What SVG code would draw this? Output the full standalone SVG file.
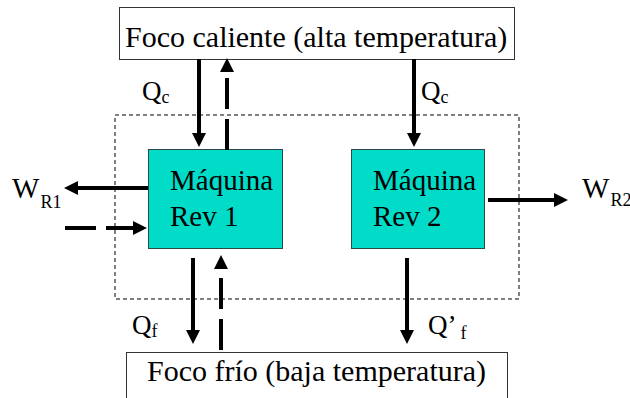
<svg xmlns="http://www.w3.org/2000/svg" width="630" height="398" viewBox="0 0 630 398" font-family="'Liberation Serif', 'Times New Roman', Times, serif">
<defs>
<style>
text, tspan { font-family: 'Liberation Serif', 'Times New Roman', Times, serif; fill: #000; }
.big { font-size: 30px; }
.mach { font-size: 29px; }
.lbl { font-size: 27px; }
.lblw { font-size: 29px; }
.sub { font-size: 18px; }
.box { fill: #fff; stroke: #333; stroke-width: 1; }
.eng { fill: #00DCC8; stroke: #2a4a44; stroke-width: 1; }
.arr { stroke: #000; stroke-width: 4; fill: none; marker-end: url(#ah); }
.dash { stroke-dasharray: 31 10; }
</style>
<marker id="ah" viewBox="0 -7 14 14" refX="0" refY="0" markerWidth="14" markerHeight="14" markerUnits="userSpaceOnUse" orient="auto">
<path d="M0,-7 L14,0 L0,7 z" fill="#000"/>
</marker>
</defs>
<rect width="630" height="398" fill="#fff"/>
<rect x="115" y="115" width="404" height="184" fill="none" stroke="#000" stroke-width="1" stroke-dasharray="4 3"/>
<g id="foco-caliente">
<rect class="box" x="119.5" y="7.5" width="395" height="52"/>
<text class="big" x="125" y="47">Foco caliente (alta temperatura)</text>
</g>
<g id="foco-frio">
<rect class="box" x="126.5" y="352.5" width="381" height="60"/>
<text class="big" x="147" y="381">Foco frío (baja temperatura)</text>
</g>
<g id="maquina1">
<rect class="eng" x="148.5" y="149.5" width="134" height="99"/>
<text class="mach" x="170" y="190">Máquina</text>
<text class="mach" x="170" y="226">Rev 1</text>
</g>
<g id="maquina2">
<rect class="eng" x="351.5" y="149.5" width="133" height="99"/>
<text class="mach" x="373" y="190">Máquina</text>
<text class="mach" x="373" y="226">Rev 2</text>
</g>
<g id="connectors">
<line class="arr" x1="199" y1="59" x2="199" y2="133"/>
<line class="arr dash" x1="227" y1="150" x2="227" y2="72"/>
<line class="arr" x1="414" y1="59" x2="414" y2="133"/>
<line class="arr" x1="148" y1="188" x2="78" y2="188"/>
<line class="arr dash" x1="65" y1="228" x2="133" y2="228"/>
<line class="arr" x1="488" y1="200" x2="554" y2="200"/>
<line class="arr" x1="193" y1="258" x2="193" y2="330"/>
<line class="arr dash" x1="221" y1="350" x2="221" y2="269"/>
<line class="arr" x1="407" y1="258" x2="407" y2="330"/>
</g>
<g id="labels">
<text x="142" y="100"><tspan class="lbl">Q</tspan><tspan class="sub" dy="3">c</tspan></text>
<text x="421" y="100"><tspan class="lbl">Q</tspan><tspan class="sub" dy="3">c</tspan></text>
<text x="12" y="198"><tspan class="lblw">W</tspan><tspan class="sub" dx="1" dy="10">R1</tspan></text>
<text x="582" y="198"><tspan class="lblw">W</tspan><tspan class="sub" dx="1" dy="8">R2</tspan></text>
<text x="132" y="334"><tspan class="lbl">Q</tspan><tspan class="sub" dy="3">f</tspan></text>
<text x="428" y="334"><tspan class="lbl">Q’</tspan><tspan class="sub" dx="4" dy="5">f</tspan></text>
</g>
</svg>
